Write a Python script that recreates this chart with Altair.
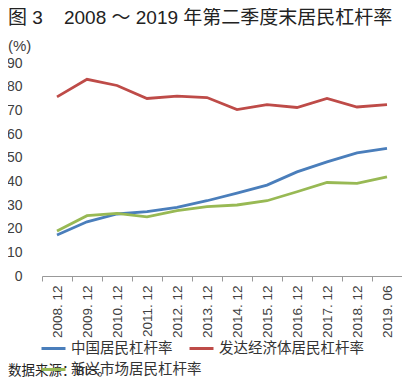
import altair as alt
import pandas as pd

categories = ["2008. 12", "2009. 12", "2010. 12", "2011. 12", "2012. 12", "2013. 12",
              "2014. 12", "2015. 12", "2016. 12", "2017. 12", "2018. 12", "2019. 06"]
china = [17.3, 22.9, 26.2, 27.2, 29.0, 31.8, 35.0, 38.4, 44.0, 48.2, 52.0, 53.9]
advanced = [75.7, 83.1, 80.5, 75.0, 76.0, 75.4, 70.3, 72.4, 71.2, 75.0, 71.4, 72.4]
emerging = [19.0, 25.5, 26.5, 25.0, 27.6, 29.3, 30.0, 31.8, 35.6, 39.5, 39.1, 41.9]
series_names = ["中国居民杠杆率", "发达经济体居民杠杆率", "新兴市场居民杠杆率"]
colors = ["#4a7ebb", "#be4b48", "#98b954"]

rows = []
for name, vals in zip(series_names, [china, advanced, emerging]):
    for c, v in zip(categories, vals):
        rows.append({"cat": c, "val": v, "series": name})
df = pd.DataFrame(rows)
df_ab = df[df["series"] != series_names[2]]
df_c = df[df["series"] == series_names[2]]

FONT = "Liberation Sans, Noto Sans CJK SC"

x_enc = alt.X("cat:N", sort=categories, title=None,
              scale=alt.Scale(type="band", paddingInner=0, paddingOuter=0),
              axis=alt.Axis(tickBand="extent", labelAngle=270, labelAlign="right",
                            labelBaseline="middle", labelPadding=4, labelFontSize=13.5,
                            labelColor="#404040", domainColor="#999999", tickColor="#999999",
                            tickSize=5, labelFont=FONT))
y_enc = alt.Y("val:Q", title=None, scale=alt.Scale(domain=[0, 90], nice=False),
              axis=alt.Axis(values=list(range(0, 91, 10)), grid=False, domain=False, ticks=False,
                            labelPadding=20, labelFontSize=14, labelColor="#404040", labelFont=FONT))

legend_common = dict(title=None, orient="none", direction="horizontal", symbolType="stroke",
                     symbolSize=576, symbolStrokeWidth=3, labelFontSize=14.5,
                     labelColor="#333333", labelFont=FONT, columnPadding=10, labelOffset=4,
                     legendX=-2)

lines_ab = alt.Chart(df_ab).mark_line(strokeWidth=2.8).encode(
    x=x_enc, y=y_enc,
    color=alt.Color("series:N", sort=series_names[:2],
                    scale=alt.Scale(domain=series_names[:2], range=colors[:2]),
                    legend=alt.Legend(legendY=272, **legend_common)),
)
lines_c = alt.Chart(df_c).mark_line(strokeWidth=2.8).encode(
    x=x_enc, y=y_enc,
    color=alt.Color("series:N",
                    scale=alt.Scale(domain=series_names[2:], range=colors[2:]),
                    legend=alt.Legend(legendY=293, **legend_common)),
)

NB = "\u00a0"
title = alt.Chart(pd.DataFrame({"t": ["图" + NB + "3" + NB * 4 + "2008" + NB + "～" + NB + "2019" + NB + "年第二季度末居民杠杆率"]})).mark_text(
    align="left", baseline="middle", fontSize=19, font=FONT, color="#222222"
).encode(text="t:N", x=alt.value(-34), y=alt.value(-45))

unit = alt.Chart(pd.DataFrame({"t": ["(%)"]})).mark_text(
    align="left", baseline="middle", fontSize=15, font=FONT, color="#404040"
).encode(text="t:N", x=alt.value(-34), y=alt.value(-17))

source = alt.Chart(pd.DataFrame({"t": ["数据来源：BIS。"]})).mark_text(
    align="left", baseline="middle", fontSize=13.5, font=FONT, color="#222222"
).encode(text="t:N", x=alt.value(-34), y=alt.value(308))

chart = alt.layer(lines_ab, lines_c, title, unit, source).resolve_scale(
    color="independent"
).properties(
    width=360, height=213,
    autosize=alt.AutoSizeParams(type="none"),
    padding={"left": 34, "top": 55, "right": 0, "bottom": 101},
).configure_view(stroke=None)

chart.save("out.html", embed_options={"renderer": "svg", "actions": False})
